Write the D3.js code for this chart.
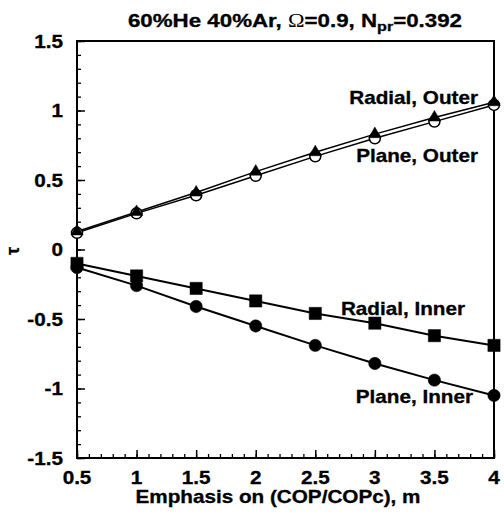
<!DOCTYPE html>
<html>
<head>
<meta charset="utf-8">
<script src="https://cdn.jsdelivr.net/npm/d3@7"></script>
<style>
  html, body { margin: 0; padding: 0; background: #fff; }
  svg { display: block; }
  text { font-family: "Liberation Sans", Arial, Helvetica, sans-serif; font-weight: bold; fill: #000; stroke: #000; stroke-width: 0.3px; }
</style>
</head>
<body>
<svg id="chart" width="504" height="516"></svg>
<script>
// Emphasis on (COP/COPc) exponent m
const emphasis = [0.5, 1, 1.5, 2, 2.5, 3, 3.5, 4];

// tau for each configuration
const radialOuter = [0.13, 0.27, 0.41, 0.56, 0.70, 0.83, 0.95, 1.06];
const planeOuter  = [0.12, 0.26, 0.39, 0.53, 0.67, 0.80, 0.92, 1.04];
const radialInner = [-0.10, -0.19, -0.28, -0.37, -0.46, -0.53, -0.62, -0.69];
const planeInner  = [-0.13, -0.26, -0.41, -0.55, -0.69, -0.82, -0.94, -1.05];

const xTicks = [0.5, 1, 1.5, 2, 2.5, 3, 3.5, 4];
const xTickLabels = ["0.5", "1", "1.5", "2", "2.5", "3", "3.5", "4"];
const yTicks = [-1.5, -1, -0.5, 0, 0.5, 1, 1.5];
const yTickLabels = ["-1.5", "-1", "-0.5", "0", "0.5", "1", "1.5"];

const seriesNames = ["Radial, Outer", "Plane, Outer", "Radial, Inner", "Plane, Inner"];

const svg = d3.select("#chart");
const plotL = 77, plotR = 494, plotT = 41, plotB = 458;
const stretch = 1.15; // text is drawn slightly wide

const x = d3.scaleLinear().domain([0.5, 4]).range([plotL, plotR]);
const y = d3.scaleLinear().domain([-1.5, 1.5]).range([plotB, plotT]);

// helper: wide bold label
function label(px, py, str, anchor, size) {
  return svg.append("text")
    .attr("transform", `translate(${px},${py}) scale(${stretch},1)`)
    .attr("text-anchor", anchor || "start")
    .attr("font-size", size || 18)
    .text(str);
}

// minor ticks every 0.1
const xMinor = d3.range(5, 41).map(v => v / 10);
const yMinor = d3.range(-15, 16).map(v => v / 10);

svg.append("g")
  .attr("transform", `translate(0,${plotB})`)
  .call(d3.axisBottom(x).tickValues(xMinor).tickSize(-4).tickFormat(""))
  .call(g => g.select(".domain").remove())
  .call(g => g.selectAll("line").attr("stroke", "#000").attr("stroke-width", 1.3));
svg.append("g")
  .attr("transform", `translate(0,${plotB})`)
  .call(d3.axisBottom(x).tickValues(xTicks).tickSize(-8).tickFormat(""))
  .call(g => g.select(".domain").remove())
  .call(g => g.selectAll("line").attr("stroke", "#000").attr("stroke-width", 1.5));

svg.append("g")
  .attr("transform", `translate(${plotL},0)`)
  .call(d3.axisLeft(y).tickValues(yMinor).tickSize(-4).tickFormat(""))
  .call(g => g.select(".domain").remove())
  .call(g => g.selectAll("line").attr("stroke", "#000").attr("stroke-width", 1.3));
svg.append("g")
  .attr("transform", `translate(${plotL},0)`)
  .call(d3.axisLeft(y).tickValues(yTicks).tickSize(-8).tickFormat(""))
  .call(g => g.select(".domain").remove())
  .call(g => g.selectAll("line").attr("stroke", "#000").attr("stroke-width", 1.5));

// plot frame
svg.append("rect")
  .attr("x", plotL).attr("y", plotT)
  .attr("width", plotR - plotL).attr("height", plotB - plotT)
  .attr("fill", "none").attr("stroke", "#000").attr("stroke-width", 2);

// tick labels
xTicks.forEach((v, i) => label(x(v), 484, xTickLabels[i], "middle"));
yTicks.forEach((v, i) => label(63, y(v) + 6.5, yTickLabels[i], "end"));

// axis titles
label(278, 503, "Emphasis on (COP/COPc), m", "middle");
svg.append("text")
  .attr("transform", `translate(19,251) rotate(-90)`)
  .attr("text-anchor", "middle")
  .attr("font-family", "'Liberation Serif', 'DejaVu Serif', serif")
  .attr("font-weight", "normal")
  .attr("stroke-width", 0)
  .attr("font-size", 18)
  .text("τ");

// chart title
const title = svg.append("text")
  .attr("transform", `translate(295,27) scale(1.24,1)`)
  .attr("text-anchor", "middle")
  .attr("font-size", 18);
title.append("tspan").text("60%He 40%Ar, ");
title.append("tspan").attr("font-weight", "normal").attr("stroke-width", 0).attr("font-family", "'Liberation Serif', serif").text("Ω");
title.append("tspan").text("=0.9, N");
title.append("tspan").attr("font-size", 13).attr("dy", 4).text("pr");
title.append("tspan").attr("dy", -4).text("=0.392");

// series lines
const pts = vals => emphasis.map((m, i) => [m, vals[i]]);
const line = d3.line().x(d => x(d[0])).y(d => y(d[1]));

[radialOuter, planeOuter].forEach(vals => {
  svg.append("path").datum(pts(vals))
    .attr("d", line).attr("fill", "none")
    .attr("stroke", "#000").attr("stroke-width", 1.5);
});
[radialInner, planeInner].forEach(vals => {
  svg.append("path").datum(pts(vals))
    .attr("d", line).attr("fill", "none")
    .attr("stroke", "#000").attr("stroke-width", 2);
});

// markers
function markers(vals, type, size, fill, strokeW) {
  svg.append("g").selectAll("path")
    .data(pts(vals)).join("path")
    .attr("transform", d => `translate(${x(d[0])},${y(d[1])})`)
    .attr("d", d3.symbol().type(type).size(size))
    .attr("fill", fill)
    .attr("stroke", "#000")
    .attr("stroke-width", strokeW);
}
markers(planeOuter, d3.symbolCircle, 95, "#fff", 1.5);
markers(radialOuter, d3.symbolTriangle, 65, "#000", 0.5);
markers(radialInner, d3.symbolSquare, 150, "#000", 0.5);
markers(planeInner, d3.symbolCircle, 120, "#000", 0.5);

// series labels
label(478, 104, seriesNames[0], "end");
label(478, 162, seriesNames[1], "end");
label(465, 315, seriesNames[2], "end");
label(473, 403, seriesNames[3], "end");
</script>
</body>
</html>
